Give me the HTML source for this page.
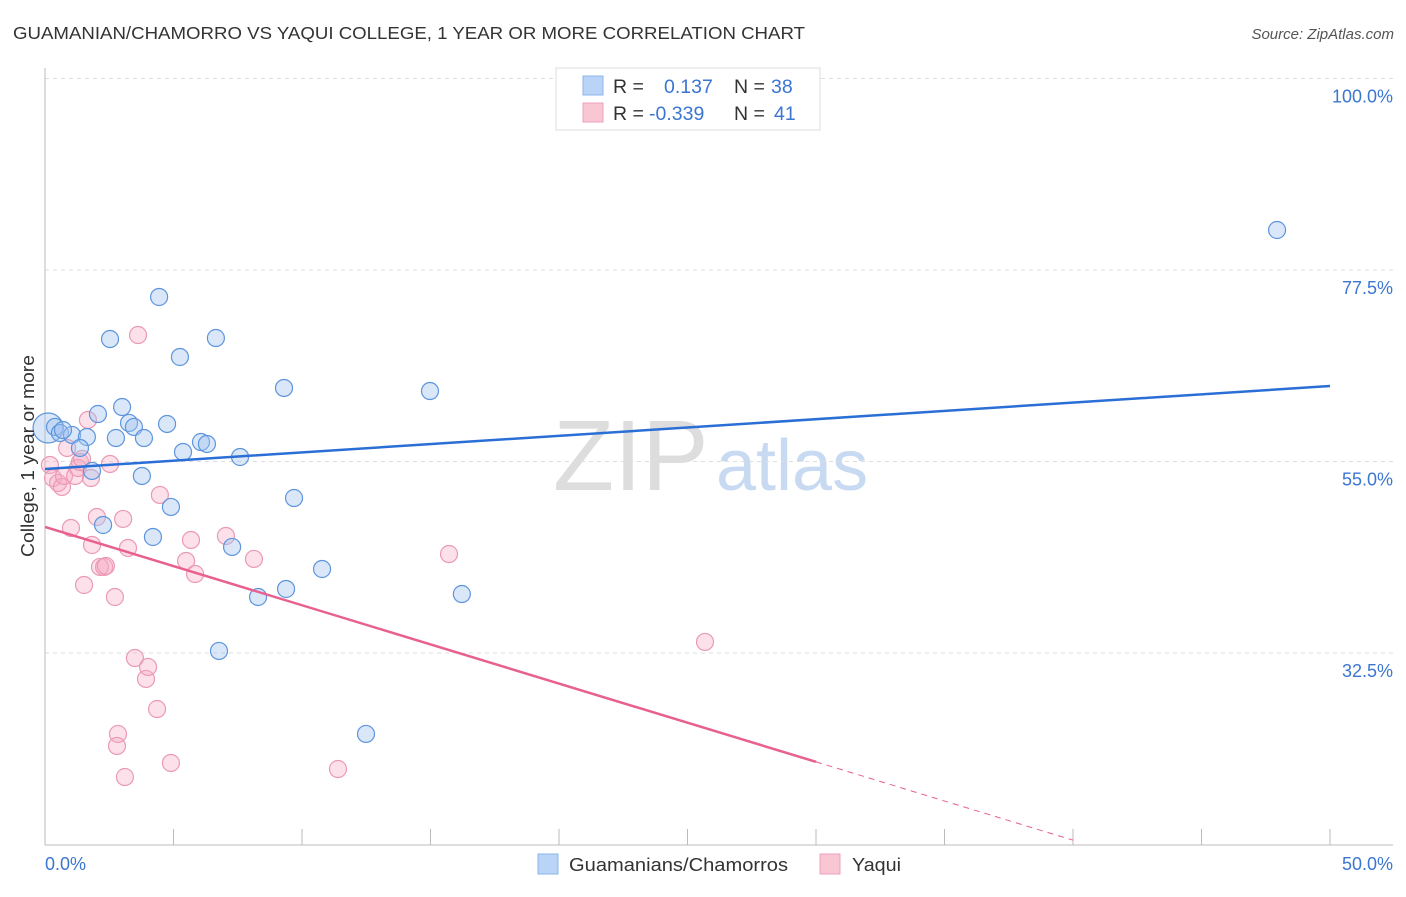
<!DOCTYPE html>
<html><head><meta charset="utf-8"><style>
body{margin:0;background:#fff;font-family:"Liberation Sans",sans-serif;}
svg text{font-family:"Liberation Sans",sans-serif;}
</style></head><body>
<svg id="c" width="1406" height="892">
<text x="13" y="39" font-size="17.5" fill="#333" textLength="792" lengthAdjust="spacingAndGlyphs">GUAMANIAN/CHAMORRO VS YAQUI COLLEGE, 1 YEAR OR MORE CORRELATION CHART</text>
<text x="1394" y="39" font-size="15" fill="#555" font-style="italic" text-anchor="end">Source: ZipAtlas.com</text>
<g>
<text x="553" y="490" font-size="100" fill="#ddd" font-family="Liberation Serif,serif">ZIP</text>
<text x="716" y="490" font-size="72" fill="#c8daf2">atlas</text>
</g>
<g id="grid"></g>
<g id="axes"></g>
<g id="marks"></g>
<g>
<rect x="556" y="68" width="264" height="62" fill="#fff" stroke="#ddd"/>
<rect x="583" y="76" width="20" height="19" fill="#b9d4f6" stroke="#8db5ea"/>
<rect x="583" y="103" width="20" height="19" fill="#f9c6d4" stroke="#f0a0b8"/>
<text x="613" y="93" font-size="19.5" fill="#333">R =</text>
<text x="664" y="93" font-size="19.5" fill="#3b76d1">0.137</text>
<text x="734" y="93" font-size="19.5" fill="#333">N =</text>
<text x="771" y="93" font-size="19.5" fill="#3b76d1">38</text>
<text x="613" y="120" font-size="19.5" fill="#333">R =</text>
<text x="649" y="120" font-size="19.5" fill="#3b76d1">-0.339</text>
<text x="734" y="120" font-size="19.5" fill="#333">N =</text>
<text x="774" y="120" font-size="19.5" fill="#3b76d1">41</text>
</g>
<g>
<rect x="538" y="854" width="20" height="20" fill="#b9d4f6" stroke="#8db5ea"/>
<text x="569" y="871" font-size="18" fill="#333" textLength="219" lengthAdjust="spacingAndGlyphs">Guamanians/Chamorros</text>
<rect x="820" y="854" width="20" height="20" fill="#f9c6d4" stroke="#f0a0b8"/>
<text x="852" y="871" font-size="18" fill="#333" textLength="49" lengthAdjust="spacingAndGlyphs">Yaqui</text>
</g>
<text transform="translate(34,456) rotate(-90)" font-size="18" fill="#333" text-anchor="middle" textLength="202" lengthAdjust="spacingAndGlyphs">College, 1 year or more</text>
</svg>
<script>
const yTicks=[100,77.5,55,32.5];
const yTickLabels=["100.0%","77.5%","55.0%","32.5%"];
const xTicks=[0,5,10,15,20,25,30,35,40,45,50];
const blueX=[0.12,0.39,0.58,1.05,1.63,1.36,1.83,2.06,2.26,2.53,2.76,3.00,3.27,3.46,3.85,3.77,4.20,4.44,4.75,4.90,5.25,5.37,6.07,6.30,6.65,6.77,7.28,7.59,8.29,9.30,9.38,9.69,10.78,12.49,14.98,16.22,47.94,0.70];
const blueY=[58.94,59.06,58.35,58.12,57.88,56.59,53.89,60.58,47.54,69.39,57.76,61.40,59.53,59.06,57.76,53.30,46.13,74.33,59.41,49.66,67.28,56.12,57.29,57.06,69.51,32.74,44.96,55.53,39.08,63.64,40.02,50.71,42.37,22.99,63.28,39.43,82.20,58.70];
const pinkX=[0.19,0.31,0.51,0.66,0.74,0.86,1.01,1.17,1.28,1.36,1.44,1.67,1.79,1.83,1.52,2.02,2.14,2.30,2.37,2.53,2.72,3.04,3.23,3.50,3.62,3.93,4.01,4.36,4.47,4.90,5.49,5.68,5.84,2.84,2.80,3.11,7.04,8.13,11.40,15.72,25.68];
const pinkY=[54.59,53.06,52.48,52.01,53.30,56.59,47.19,53.30,54.24,54.94,55.30,59.88,53.06,45.19,40.49,48.48,42.61,42.61,42.73,54.71,39.08,48.25,44.84,31.91,69.86,29.45,30.86,25.92,51.07,19.58,43.31,45.78,41.78,22.99,21.58,17.93,46.25,43.55,18.87,44.13,33.80];
const blueTrend=[54.12,0.195];
const pinkTrend=[47.31,-0.920];
const xs=v=>45+v/50*1285;
const ys=v=>78.5+(100-v)/22.5*191.5;
const NS="http://www.w3.org/2000/svg";
function mk(parent,tag,attrs){const e=document.createElementNS(NS,tag);for(const k in attrs)e.setAttribute(k,attrs[k]);document.getElementById(parent).appendChild(e);return e;}
yTicks.forEach((t,i)=>{
 const l=mk('grid','line',{x1:45,x2:1393,y1:ys(t),y2:ys(t),stroke:'#ddd','stroke-dasharray':'4,4'});
 
 
 const tx=mk('grid','text',{x:1393,y:ys(t)+24,'font-size':18,fill:'#3b76d1','text-anchor':'end'});
 tx.textContent=yTickLabels[i];
 
 
});
let a=mk('axes','line',{x1:45,x2:45,y1:68,y2:845,stroke:'#bbb'});


a=mk('axes','line',{x1:45,x2:1393,y1:845,y2:845,stroke:'#bbb'});


xTicks.forEach(t=>{const l=mk('axes','line',{x1:xs(t),x2:xs(t),y1:829,y2:845,stroke:'#bbb'});
 
 });
let t0=mk('axes','text',{x:45,y:870,'font-size':18,fill:'#3b76d1'});t0.textContent='0.0%';


let t1=mk('axes','text',{x:1393,y:870,'font-size':18,fill:'#3b76d1','text-anchor':'end'});t1.textContent='50.0%';


pinkX.forEach((x,i)=>{const c=mk('marks','circle',{cx:xs(x),cy:ys(pinkY[i]),r:8.5,fill:'rgba(246,170,195,0.35)',stroke:'#eb9ab4','stroke-width':1.2});
 
 });
blueX.forEach((x,i)=>{const c=mk('marks','circle',{cx:xs(x),cy:ys(blueY[i]),r:i===0?15:8.5,fill:'rgba(160,196,240,0.4)',stroke:'#5e95dc','stroke-width':1.2});
 
 });
let bl=mk('marks','line',{x1:xs(0),y1:ys(blueTrend[0]),x2:xs(50),y2:ys(blueTrend[0]+50*blueTrend[1]),stroke:'#2a6fd6','stroke-width':2.5});


let pl=mk('marks','line',{x1:xs(0),y1:ys(pinkTrend[0]),x2:xs(30),y2:ys(pinkTrend[0]+30*pinkTrend[1]),stroke:'#e8608f','stroke-width':2.5});


let pd=mk('marks','line',{x1:xs(30),y1:ys(pinkTrend[0]+30*pinkTrend[1]),x2:xs(40),y2:ys(pinkTrend[0]+40*pinkTrend[1]),stroke:'#e8608f','stroke-width':1,'stroke-dasharray':'6,5'});


</script>
</body></html>
